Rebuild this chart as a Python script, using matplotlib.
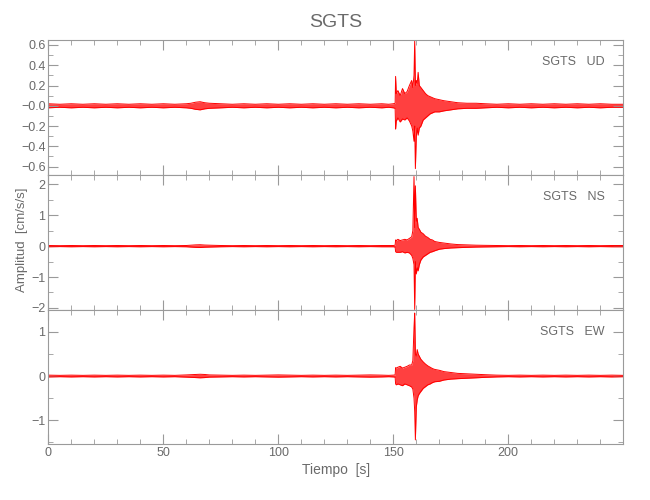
import matplotlib
matplotlib.use('Agg')
import matplotlib.pyplot as plt
from matplotlib.ticker import FixedLocator, FixedFormatter, MultipleLocator

# station / component labels
station = "SGTS"
components = ["UD", "NS", "EW"]

# envelope knots (s)
t = [0, 5, 10, 15, 20, 25, 30, 35, 40, 45, 50, 55, 60, 62, 64, 66, 68, 70,
     75, 80, 85, 90, 95, 100, 105, 110, 115, 120, 125, 130, 135, 140, 145,
     148, 150, 150.8, 151, 151.3, 152, 153, 154, 155, 156, 157, 158, 158.5,
     159, 159.3, 159.6, 160, 160.4, 160.8, 161.3, 162, 163, 164, 165, 166,
     167, 168, 170, 172, 175, 178, 182, 186, 190, 195, 200, 205, 210, 215,
     220, 225, 230, 235, 240, 245, 250]

ud_up = [0.02, 0.015, 0.02, 0.015, 0.02, 0.015, 0.02, 0.015, 0.02, 0.015, 0.02, 0.015, 0.02, 0.025, 0.035, 0.04, 0.03, 0.025,
         0.02, 0.015, 0.02, 0.015, 0.02, 0.015, 0.02, 0.015, 0.02, 0.015, 0.02, 0.015, 0.02, 0.015, 0.02,
         0.015, 0.02, 0.025, 0.29, 0.12, 0.15, 0.10, 0.17, 0.12, 0.14, 0.20, 0.25, 0.18,
         0.30, 0.64, 0.20, 0.25, 0.22, 0.33, 0.20, 0.18, 0.15, 0.12, 0.10, 0.09,
         0.08, 0.07, 0.06, 0.05, 0.04, 0.03, 0.025, 0.025, 0.02, 0.015, 0.02, 0.015, 0.02, 0.015,
         0.02, 0.015, 0.02, 0.015, 0.02, 0.015, 0.015]
ud_lo = [-0.02, -0.015, -0.02, -0.015, -0.02, -0.015, -0.02, -0.015, -0.02, -0.015, -0.02, -0.015, -0.02, -0.025, -0.035, -0.04, -0.03, -0.025,
         -0.02, -0.015, -0.02, -0.015, -0.02, -0.015, -0.02, -0.015, -0.02, -0.015, -0.02, -0.015, -0.02, -0.015, -0.02,
         -0.015, -0.02, -0.025, -0.23, -0.15, -0.12, -0.16, -0.13, -0.14, -0.12, -0.15, -0.20, -0.25,
         -0.35, -0.20, -0.62, -0.30, -0.22, -0.29, -0.22, -0.20, -0.14, -0.12, -0.10, -0.08,
         -0.07, -0.06, -0.06, -0.05, -0.04, -0.03, -0.025, -0.025, -0.02, -0.015, -0.02, -0.015, -0.02, -0.015,
         -0.02, -0.015, -0.02, -0.015, -0.02, -0.015, -0.015]

ns_up = [0.02, 0.015, 0.02, 0.015, 0.02, 0.015, 0.02, 0.015, 0.02, 0.015, 0.02, 0.015, 0.02, 0.03, 0.04, 0.045, 0.035, 0.03,
         0.02, 0.015, 0.02, 0.015, 0.02, 0.015, 0.02, 0.015, 0.02, 0.015, 0.02, 0.015, 0.02, 0.015, 0.02,
         0.02, 0.02, 0.03, 0.20, 0.18, 0.22, 0.18, 0.20, 0.22, 0.20, 0.25, 0.30, 0.50,
         2.25, 0.60, 1.95, 0.80, 0.90, 0.60, 0.55, 0.45, 0.40, 0.32, 0.28, 0.22,
         0.20, 0.15, 0.12, 0.10, 0.07, 0.05, 0.04, 0.03, 0.025, 0.02, 0.015, 0.02, 0.015, 0.02,
         0.015, 0.02, 0.015, 0.02, 0.015, 0.02, 0.02]
ns_lo = [-0.02, -0.015, -0.02, -0.015, -0.02, -0.015, -0.02, -0.015, -0.02, -0.015, -0.02, -0.015, -0.02, -0.03, -0.04, -0.045, -0.035, -0.03,
         -0.02, -0.015, -0.02, -0.015, -0.02, -0.015, -0.02, -0.015, -0.02, -0.015, -0.02, -0.015, -0.02, -0.015, -0.02,
         -0.02, -0.02, -0.03, -0.18, -0.20, -0.20, -0.20, -0.18, -0.22, -0.20, -0.22, -0.30, -0.40,
         -0.60, -2.05, -0.50, -0.90, -0.70, -0.80, -0.60, -0.45, -0.35, -0.30, -0.25, -0.20,
         -0.18, -0.15, -0.10, -0.08, -0.06, -0.05, -0.04, -0.03, -0.025, -0.02, -0.015, -0.02, -0.015, -0.02,
         -0.015, -0.02, -0.015, -0.02, -0.015, -0.02, -0.02]

ew_up = [0.02, 0.015, 0.02, 0.015, 0.02, 0.015, 0.02, 0.015, 0.02, 0.015, 0.02, 0.015, 0.025, 0.03, 0.035, 0.04, 0.035, 0.025,
         0.02, 0.015, 0.02, 0.015, 0.02, 0.025, 0.02, 0.015, 0.02, 0.015, 0.02, 0.015, 0.02, 0.025, 0.02,
         0.015, 0.02, 0.025, 0.19, 0.18, 0.20, 0.22, 0.18, 0.20, 0.22, 0.25, 0.25, 0.35,
         1.10, 1.43, 0.50, 0.45, 0.60, 0.50, 0.45, 0.38, 0.32, 0.27, 0.23, 0.20,
         0.17, 0.15, 0.13, 0.10, 0.08, 0.06, 0.05, 0.04, 0.03, 0.02, 0.015, 0.02, 0.015, 0.02,
         0.015, 0.02, 0.015, 0.02, 0.015, 0.02, 0.015]
ew_lo = [-0.02, -0.015, -0.02, -0.015, -0.02, -0.015, -0.02, -0.015, -0.02, -0.015, -0.02, -0.015, -0.025, -0.03, -0.035, -0.04, -0.035, -0.025,
         -0.02, -0.015, -0.02, -0.015, -0.02, -0.025, -0.02, -0.015, -0.02, -0.015, -0.02, -0.015, -0.02, -0.025, -0.02,
         -0.015, -0.02, -0.025, -0.18, -0.20, -0.18, -0.20, -0.22, -0.18, -0.20, -0.22, -0.25, -0.30,
         -0.50, -0.80, -1.45, -0.70, -0.54, -0.45, -0.40, -0.35, -0.28, -0.24, -0.20, -0.18,
         -0.15, -0.13, -0.12, -0.09, -0.07, -0.06, -0.05, -0.04, -0.03, -0.02, -0.015, -0.02, -0.015, -0.02,
         -0.015, -0.02, -0.015, -0.02, -0.015, -0.02, -0.015]

# axis setup per panel
ylims = [(-0.68, 0.65), (-2.05, 2.31), (-1.55, 1.51)]
yticks = [[0.6, 0.4, 0.2, 0.0, -0.2, -0.4, -0.6], [2, 1, 0, -1, -2], [1, 0, -1]]
yticklabels = [["0.6", "0.4", "0.2", "\u22120.0", "\u22120.2", "\u22120.4", "\u22120.6"],
               ["2", "1", "0", "\u22121", "\u22122"],
               ["1", "0", "\u22121"]]
yminor = [0.1, 0.5, 0.5]
xticks = [0, 50, 100, 150, 200]

plt.rcParams['font.family'] = ['Liberation Sans', 'DejaVu Sans']
gray = '#6a6a6a'
axcol = '#9a9a9a'

fig = plt.figure(figsize=(6.5, 5), dpi=100)
left, width = 48.3 / 650, 575 / 650
h = 134.8 / 500
bottoms = [(500 - 174.7) / 500, (500 - 309.5) / 500, (500 - 444.3) / 500]
ups = [ud_up, ns_up, ew_up]
los = [ud_lo, ns_lo, ew_lo]

axes = []
for i in range(3):
    ax = fig.add_axes([left, bottoms[i], width, h])
    ax.fill_between(t, los[i], ups[i], color='red', alpha=0.75, linewidth=0)
    ax.plot(t, ups[i], color='red', linewidth=0.7)
    ax.plot(t, los[i], color='red', linewidth=0.7)
    ax.set_xlim(0, 250)
    ax.set_ylim(*ylims[i])
    ax.xaxis.set_major_locator(FixedLocator(xticks))
    ax.xaxis.set_minor_locator(MultipleLocator(10))
    ax.yaxis.set_major_locator(FixedLocator(yticks[i]))
    ax.yaxis.set_major_formatter(FixedFormatter(yticklabels[i]))
    ax.yaxis.set_minor_locator(MultipleLocator(yminor[i]))
    ax.tick_params(which='both', direction='in', top=True, right=True,
                   color=axcol, labelcolor=gray, labelsize=9, pad=2)
    ax.tick_params(which='major', length=7)
    ax.tick_params(which='minor', length=3.5)
    for s in ax.spines.values():
        s.set_color(axcol)
    if i < 2:
        ax.tick_params(labelbottom=False)
    ax.text(0.968, 0.833, station + "   " + components[i], transform=ax.transAxes,
            ha='right', va='center', color=gray, fontsize=9)
    axes.append(ax)

axes[2].set_xlabel("Tiempo  [s]", color=gray, fontsize=10, labelpad=3)
fig.text(0.034, 0.52, "Amplitud  [cm/s/s]", rotation=90, ha='center', va='center',
         color=gray, fontsize=9.5)
fig.text(0.517, 0.955, station, ha='center', va='center', color=gray, fontsize=14)

fig.savefig("out.png", dpi=100)
